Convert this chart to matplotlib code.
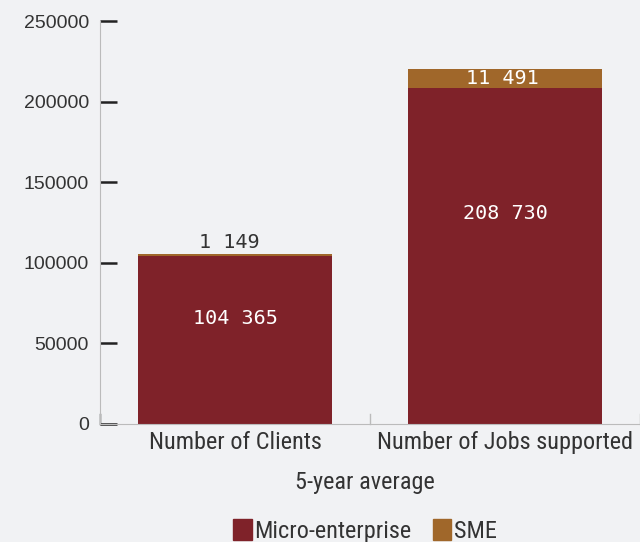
import matplotlib.pyplot as plt
import numpy as np
from matplotlib.patches import Patch
from matplotlib import font_manager

categories = ["Number of Clients", "Number of Jobs supported"]
micro = [104365, 208730]
sme = [1149, 11491]
micro_labels = ["104 365", "208 730"]
sme_labels = ["1 149", "11 491"]
yticks = [0, 50000, 100000, 150000, 200000, 250000]

bg = "#f1f2f4"
c_micro = "#7f2229"
c_sme = "#a0672a"
txt = "#333333"

names = {f.name for f in font_manager.fontManager.ttflist}
cond = [n for n in ["Roboto Condensed", "Liberation Sans Narrow", "DejaVu Sans Condensed"] if n in names]
cond = cond + ["DejaVu Sans"]

fig = plt.figure(figsize=(6.4, 5.42), dpi=100, facecolor=bg)
ax = fig.add_axes([100 / 640, 1 - 424 / 542, 540 / 640, 403 / 542])
ax.set_facecolor(bg)

x = np.arange(len(categories))
ax.bar(x, micro, width=0.72, color=c_micro)
ax.bar(x, sme, bottom=micro, width=0.72, color=c_sme)

ax.set_xlim(-0.5, 1.5)
ax.set_ylim(0, 250000)

mono = ["DejaVu Sans Mono"]
for i in range(len(categories)):
    ax.text(x[i], micro[i] * 0.625, micro_labels[i], ha="center", va="center",
            color="white", fontsize=14.5, family=mono)
    if sme[i] < 5000:
        ax.text(x[i] - 0.02, micro[i] + sme[i] + 1000, sme_labels[i], ha="center", va="bottom",
                color=txt, fontsize=14.5, family=mono)
    else:
        ax.text(x[i] - 0.01, micro[i] + sme[i] / 2, sme_labels[i], ha="center", va="center",
                color="white", fontsize=14.5, family=mono)

ax.set_yticks(yticks)
ax.set_yticklabels([str(v) for v in yticks], fontsize=14, color=txt, family="Liberation Sans")
ax.tick_params(axis="y", direction="in", length=12, width=1.8, color="#222222", pad=8)
ax.set_xticks(x)
ax.set_xticklabels(categories, fontsize=17.5, color=txt, family=cond, fontstretch="condensed")
ax.tick_params(axis="x", length=0, pad=5)
# category separators
for sx in [-0.5, 0.5, 1.5]:
    ax.plot([sx, sx], [0, 6000], color="#bbbbbb" if sx != -0.5 else "#222222",
            lw=1, clip_on=False)

for s in ["top", "right"]:
    ax.spines[s].set_visible(False)
ax.spines["left"].set_color("#bbbbbb")
ax.spines["bottom"].set_color("#bbbbbb")

fig.text(365 / 640, 1 - 483 / 542, "5-year average", ha="center", va="center",
         fontsize=17.5, color=txt, family=cond, fontstretch="condensed")

handles = [Patch(color=c_micro, label="Micro-enterprise"), Patch(color=c_sme, label="SME")]
fig.legend(handles=handles, loc="center", bbox_to_anchor=(365 / 640, 1 - 531 / 542),
           ncol=2, frameon=False,
           prop={"family": cond, "size": 17.5, "stretch": "condensed"},
           handlelength=0.75, handleheight=0.95, handletextpad=0.1, columnspacing=0.9,
           labelcolor=txt)

fig.savefig("out.png", dpi=100, facecolor=bg)
